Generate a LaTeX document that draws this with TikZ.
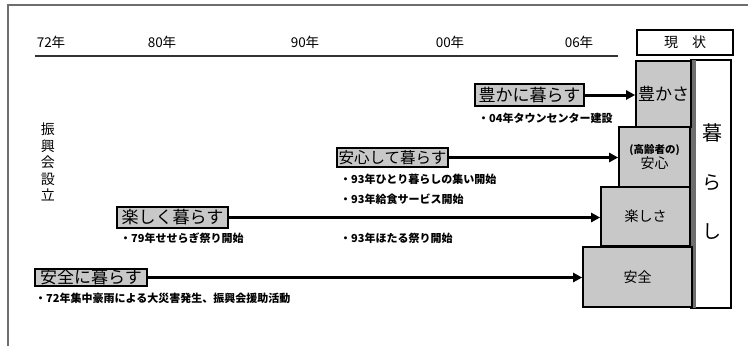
\documentclass[tikz,border=0pt]{standalone}
\usepackage{fontspec}
\setmainfont{Noto Sans CJK JP}
\usetikzlibrary{arrows.meta}
\definecolor{boxgray}{RGB}{200,200,200}
\definecolor{framegray}{RGB}{110,110,110}
\tikzset{
  stackbox/.style={draw=black, line width=1.6pt, fill=boxgray, inner sep=0pt, font=\fontsize{14}{16}\selectfont},
  labelbox/.style={draw=black, line width=1.2pt, fill=boxgray, inner sep=0pt, font=\fontsize{17}{18}\selectfont},
  note/.style={anchor=west, inner sep=0pt, font=\fontsize{11}{12}\selectfont\bfseries},
  year/.style={inner sep=0pt, font=\fontsize{13.5}{15}\selectfont},
  conn/.style={line width=2.4pt, -{Triangle[length=9pt,width=9pt]}},
}
\begin{document}
\begin{tikzpicture}[x=1pt,y=-1pt]
\useasboundingbox (0,0) rectangle (748,346);
% frame
\draw[framegray, line width=1.6pt] (748,5) -- (8,5) -- (8,346);
% years
\node[year] (y72) at (51,42) {72年};
\node[year] (y80) at (162,42) {80年};
\node[year] (y90) at (305,42) {90年};
\node[year] (y00) at (450,42) {00年};
\node[year] (y06) at (579,42) {06年};
\coordinate (tl0) at (35,56);
\coordinate (tl1) at (618,56);
\draw[black!80, line width=1.3pt] (tl0) -- (tl1);
% current state
\node[draw=black, line width=2pt, fill=white, minimum width=96pt, minimum height=25pt, inner sep=0pt,
      font=\fontsize{14}{16}\selectfont] (genjo) at (685,42.5) {現\hspace{1em}状};
% kurashi column
\node[draw=black, line width=1.4pt, fill=white, minimum width=40pt, minimum height=248pt, inner sep=0pt] (kurashi) at (711,184) {};
\fill[framegray] (691,60) rectangle (696,308);
\node[inner sep=0pt, font=\fontsize{20}{22}\selectfont] (k1) at (712,133) {暮};
\node[inner sep=0pt, font=\fontsize{19}{22}\selectfont] (k2) at (712,183) {ら};
\node[inner sep=0pt, font=\fontsize{19}{22}\selectfont] (k3) at (712,232) {し};
% stacked boxes
\node[stackbox, minimum width=55pt, minimum height=66pt, font=\fontsize{17}{18}\selectfont] (yutakasa) at (663.5,94) {豊かさ};
\node[stackbox, minimum width=71pt, minimum height=61pt, align=center] (anshin) at (654.5,157.5)
  {{\fontsize{10.5}{12}\selectfont\bfseries (高齢者の)}\\[-1pt]{\fontsize{14}{16}\selectfont 安心}};
\node[stackbox, minimum width=89pt, minimum height=59pt] (tanoshisa) at (645.5,216.5) {楽しさ};
\node[stackbox, minimum width=109pt, minimum height=60pt] (anzen) at (637.5,277) {安全};
% founding
\node[inner sep=0pt, align=center, font=\fontsize{14}{16.5}\selectfont] (setsuritsu) at (48,162) {振\\興\\会\\設\\立};
% label boxes
\node[labelbox, minimum width=109pt, minimum height=22pt] (L1) at (529.5,95) {豊かに暮らす};
\node[labelbox, minimum width=111pt, minimum height=19pt, font=\fontsize{15.5}{17}\selectfont] (L2) at (392.5,157.5) {安心して暮らす};
\node[labelbox, minimum width=111pt, minimum height=21pt] (L3) at (172.5,217.5) {楽しく暮らす};
\node[labelbox, minimum width=112pt, minimum height=17pt] (L4) at (91,277.5) {安全に暮らす};
% connectors
\draw[conn, line width=3pt] (L1.east) -- (L1.east -| yutakasa.west);
\draw[conn] (L2.east) -- (L2.east -| anshin.west);
\draw[conn] (L3.east) -- (L3.east -| tanoshisa.west);
\draw[conn] (L4.east) -- (L4.east -| anzen.west);
% notes
\node[note] (n1) at (478,118) {・04年タウンセンター建設};
\node[note] (n2) at (340,179) {・93年ひとり暮らしの集い開始};
\node[note] (n3) at (340,199) {・93年給食サービス開始};
\node[note] (n4) at (120,238) {・79年せせらぎ祭り開始};
\node[note] (n5) at (340,238) {・93年ほたる祭り開始};
\node[note] (n6) at (35,298) {・72年集中豪雨による大災害発生、振興会援助活動};
\end{tikzpicture}
\end{document}
